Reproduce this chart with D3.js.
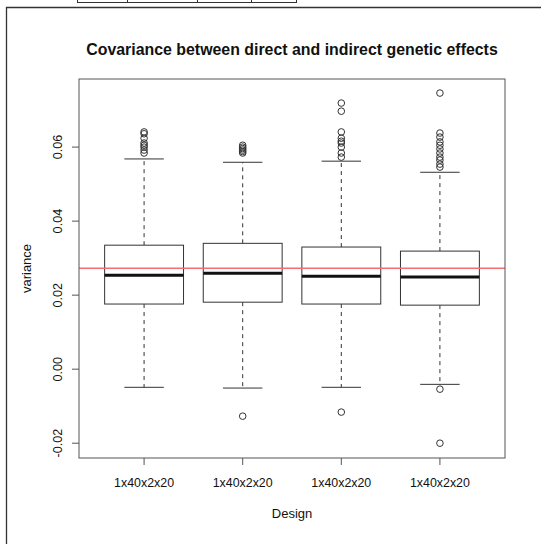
<html>
<head>
<meta charset="utf-8">
<script src="https://d3js.org/d3.v7.min.js"></script>
<style>
  body { margin: 0; background: white; }
  text { font-family: "Liberation Sans", Arial, sans-serif; fill: #111; }
</style>
</head>
<body>
<script>
// values
var designs = ["1x40x2x20", "1x40x2x20", "1x40x2x20", "1x40x2x20"];
var lowWhisker = [-0.0049, -0.0051, -0.0049, -0.0041];
var q1 = [0.0176, 0.0181, 0.0176, 0.0173];
var median = [0.0254, 0.0259, 0.0251, 0.0249];
var q3 = [0.0335, 0.0340, 0.0330, 0.0319];
var highWhisker = [0.0568, 0.0559, 0.0562, 0.0532];
var outliers = [
  [0.0641, 0.0636, 0.0624, 0.0611, 0.0605, 0.0600, 0.0592, 0.0584],
  [0.0605, 0.0600, 0.0596, 0.0592, 0.0588, 0.0584, -0.0127],
  [0.0719, 0.0697, 0.0641, 0.0624, 0.0616, 0.0611, 0.0600, 0.0584, 0.0573, -0.0116],
  [0.0746, 0.0638, 0.0627, 0.0614, 0.0605, 0.0595, 0.0584, 0.0573, 0.0565, 0.0554, 0.0546, -0.0054, -0.0200]
];
var refLine = 0.0273;
var yTicks = [-0.02, 0.00, 0.02, 0.04, 0.06];

var W = 541, H = 544;
var pLeft = 79, pRight = 505, pTop = 79, pBottom = 458;

var svg = d3.select("body").append("svg")
  .attr("width", W).attr("height", H);

// outer frame and the table strip above it
svg.append("path")
  .attr("d", "M6.5," + H + "V7.5H" + W)
  .attr("fill", "none").attr("stroke", "#333").attr("stroke-width", 1.3);
var cells = [77, 127, 197, 251, 296];
svg.append("path")
  .attr("d", "M77,2.5H296")
  .attr("fill", "none").attr("stroke", "#333");
svg.selectAll(".cell").data(cells).enter().append("line")
  .attr("class", "cell")
  .attr("x1", d => d + 0.5).attr("x2", d => d + 0.5)
  .attr("y1", 0).attr("y2", 3)
  .attr("stroke", "#333");

var x = d3.scaleLinear().domain([0.34, 4.66]).range([pLeft, pRight]);
var y = d3.scaleLinear().domain([-0.0240, 0.0784]).range([pBottom, pTop]);

var stroke = "#333";

// boxes
var g = svg.selectAll(".box").data(designs).enter().append("g").attr("class", "box");

g.append("line")
  .attr("x1", (d, i) => x(i + 1)).attr("x2", (d, i) => x(i + 1))
  .attr("y1", (d, i) => y(q3[i])).attr("y2", (d, i) => y(highWhisker[i]))
  .attr("stroke", stroke).attr("stroke-dasharray", "4,4");
g.append("line")
  .attr("x1", (d, i) => x(i + 1)).attr("x2", (d, i) => x(i + 1))
  .attr("y1", (d, i) => y(q1[i])).attr("y2", (d, i) => y(lowWhisker[i]))
  .attr("stroke", stroke).attr("stroke-dasharray", "4,4");
g.append("line")
  .attr("x1", (d, i) => x(i + 0.8)).attr("x2", (d, i) => x(i + 1.2))
  .attr("y1", (d, i) => y(highWhisker[i])).attr("y2", (d, i) => y(highWhisker[i]))
  .attr("stroke", stroke);
g.append("line")
  .attr("x1", (d, i) => x(i + 0.8)).attr("x2", (d, i) => x(i + 1.2))
  .attr("y1", (d, i) => y(lowWhisker[i])).attr("y2", (d, i) => y(lowWhisker[i]))
  .attr("stroke", stroke);
g.append("rect")
  .attr("x", (d, i) => x(i + 0.6)).attr("width", (d, i) => x(i + 1.4) - x(i + 0.6))
  .attr("y", (d, i) => y(q3[i])).attr("height", (d, i) => y(q1[i]) - y(q3[i]))
  .attr("fill", "white").attr("stroke", stroke);
g.append("line")
  .attr("x1", (d, i) => x(i + 0.6)).attr("x2", (d, i) => x(i + 1.4))
  .attr("y1", (d, i) => y(median[i])).attr("y2", (d, i) => y(median[i]))
  .attr("stroke", "#111").attr("stroke-width", 3);

g.each(function (d, i) {
  d3.select(this).selectAll("circle").data(outliers[i]).enter().append("circle")
    .attr("cx", x(i + 1)).attr("cy", v => y(v)).attr("r", 3.3)
    .attr("fill", "none").attr("stroke", stroke).attr("stroke-width", 1);
});

// reference line
svg.append("line")
  .attr("x1", pLeft).attr("x2", pRight)
  .attr("y1", y(refLine)).attr("y2", y(refLine))
  .attr("stroke", "#f07070").attr("stroke-width", 1.5);

// plot box
svg.append("rect")
  .attr("x", pLeft).attr("y", pTop)
  .attr("width", pRight - pLeft).attr("height", pBottom - pTop)
  .attr("fill", "none").attr("stroke", "#555");

// y axis
var yAxis = svg.append("g");
yAxis.selectAll("line").data(yTicks).enter().append("line")
  .attr("x1", pLeft - 7).attr("x2", pLeft)
  .attr("y1", d => y(d)).attr("y2", d => y(d))
  .attr("stroke", "#555");
yAxis.selectAll("text").data(yTicks).enter().append("text")
  .attr("transform", d => "translate(62," + y(d) + ") rotate(-90)")
  .attr("text-anchor", "middle")
  .style("font-size", "12.6px")
  .text(d => d3.format(".2f")(d).replace("\u2212", "-"));

// x axis
var xAxis = svg.append("g");
xAxis.selectAll("line").data(designs).enter().append("line")
  .attr("x1", (d, i) => x(i + 1)).attr("x2", (d, i) => x(i + 1))
  .attr("y1", pBottom).attr("y2", pBottom + 7)
  .attr("stroke", "#555");
xAxis.selectAll("text").data(designs).enter().append("text")
  .attr("x", (d, i) => x(i + 1)).attr("y", 487)
  .attr("text-anchor", "middle")
  .style("font-size", "12.4px")
  .text(d => d);

// titles
svg.append("text")
  .attr("x", (pLeft + pRight) / 2).attr("y", 55)
  .attr("text-anchor", "middle")
  .style("font-size", "15.9px").style("font-weight", "bold")
  .text("Covariance between direct and indirect genetic effects");
svg.append("text")
  .attr("x", (pLeft + pRight) / 2).attr("y", 518)
  .attr("text-anchor", "middle")
  .style("font-size", "13px")
  .text("Design");
svg.append("text")
  .attr("transform", "translate(31," + (pTop + pBottom) / 2 + ") rotate(-90)")
  .attr("text-anchor", "middle")
  .style("font-size", "13px")
  .text("variance");
</script>
</body>
</html>
